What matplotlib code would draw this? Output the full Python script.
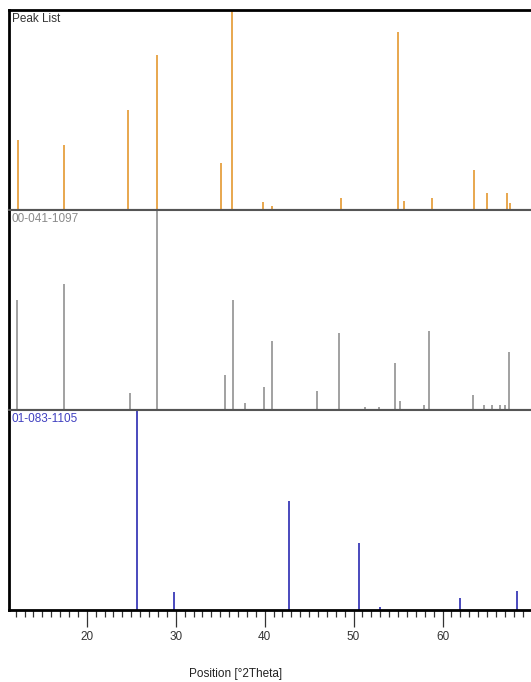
import numpy as np
import matplotlib.pyplot as plt
from matplotlib.ticker import MultipleLocator

plt.rcParams['font.family'] = ['Liberation Sans', 'DejaVu Sans']

# peak list (measured)
peak_pos = [12.29, 17.44, 24.58, 27.85, 35.1, 36.35, 39.8, 40.86, 48.56,
            54.95, 55.7, 58.85, 63.55, 65.0, 67.24, 67.6]
peak_int = [35.2, 32.5, 50.2, 78.0, 23.5, 100.0, 4.2, 2.0, 6.0,
            89.3, 4.7, 6.0, 20.0, 8.5, 8.5, 3.5]

# reference 00-041-1097
ref1_pos = [12.14, 17.47, 24.82, 27.86, 35.52, 36.46, 37.77, 39.91, 40.78,
            44.87, 45.85, 48.40, 51.33, 52.9, 54.66, 55.27, 57.93, 58.53,
            63.44, 64.68, 65.58, 66.48, 67.0, 67.53]
ref1_int = [55.4, 63.4, 8.4, 100.0, 17.4, 55.4, 3.5, 11.4, 34.7,
            0.7, 9.4, 38.8, 1.4, 1.4, 23.4, 4.4, 2.4, 39.8,
            7.4, 2.4, 2.4, 2.4, 2.4, 28.9]

# reference 01-083-1105
ref2_pos = [25.61, 29.82, 42.69, 50.57, 53.0, 61.98, 68.33]
ref2_int = [100.0, 9.0, 54.7, 33.5, 1.5, 6.0, 9.7]

panels = [
    ('Peak List', peak_pos, peak_int, '#E6A040', '#333333'),
    ('00-041-1097', ref1_pos, ref1_int, '#9A9A9A', '#8A8A8A'),
    ('01-083-1105', ref2_pos, ref2_int, '#3A3AB8', '#4040C0'),
]

fig = plt.figure(figsize=(5.31, 6.82), dpi=100)
gs = fig.add_gridspec(3, 1, left=9/531, right=1.0, bottom=72/682, top=672/682,
                      hspace=0)
axes = []
for i, (name, pos, inten, col, tcol) in enumerate(panels):
    ax = fig.add_subplot(gs[i], sharex=axes[0] if axes else None)
    ax.vlines(pos, 0, inten, colors=col, lw=1.3)
    ax.set_ylim(0, 100.5)
    ax.set_xlim(11.25, 69.95)
    ax.text(0.005, 0.985, name, transform=ax.transAxes, ha='left', va='top',
            fontsize=8.5, color=tcol)
    ax.set_yticks([])
    ax.spines['right'].set_visible(False)
    ax.spines['left'].set_linewidth(2)
    ax.spines['left'].set_color('black')
    ax.spines['top'].set_linewidth(1.5)
    ax.spines['top'].set_color('#555555' if i > 0 else 'black')
    if i == 0:
        ax.spines['top'].set_linewidth(2)
    ax.spines['bottom'].set_linewidth(1.5)
    ax.spines['bottom'].set_color('#555555' if i < 2 else 'black')
    if i < 2:
        ax.tick_params(axis='x', bottom=False, labelbottom=False)
    axes.append(ax)

ax = axes[-1]
ax.spines['bottom'].set_linewidth(2)
ax.xaxis.set_major_locator(MultipleLocator(10))
ax.xaxis.set_minor_locator(MultipleLocator(1))
ax.tick_params(axis='x', which='major', length=12, width=0.9, color='#333333',
               labelsize=8.5, labelcolor='#333333', pad=3)
ax.tick_params(axis='x', which='minor', length=5, width=0.9, color='#333333')
ax.set_xlabel('Position [°2Theta]', fontsize=8.5, color='#222222', labelpad=20)
ax.xaxis.set_label_coords((236 - 9) / 522, -0.29)

fig.savefig('out.png', dpi=100)
